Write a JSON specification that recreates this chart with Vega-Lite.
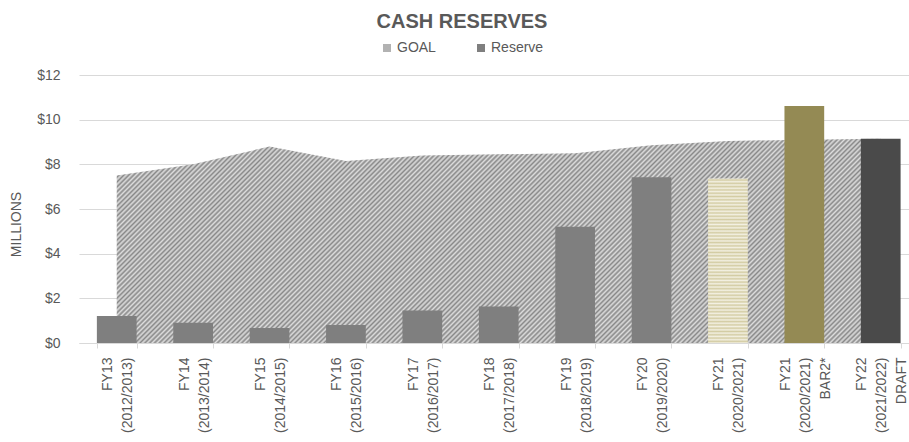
{
  "$schema": "https://vega.github.io/schema/vega-lite/v6.json",
  "width": 830,
  "height": 268,
  "autosize": "none",
  "padding": {"left": 79, "top": 75, "right": 0, "bottom": 99},
  "background": "white",
  "config": {
    "font": "Liberation Sans",
    "view": {"stroke": null}
  },
  "title": {
    "text": "CASH RESERVES",
    "font": "Liberation Sans",
    "fontSize": 20,
    "fontWeight": "bold",
    "color": "#595959",
    "anchor": "middle",
    "baseline": "alphabetic",
    "dx": -32,
    "dy": 20,
    "offset": 13
  },
  "data": {
    "values": [
      {"cat": "FY13|(2012/2013)", "goal": 7.5, "reserve": 1.21, "kind": "actual"},
      {"cat": "FY14|(2013/2014)", "goal": 8.0, "reserve": 0.91, "kind": "actual"},
      {"cat": "FY15|(2014/2015)", "goal": 8.8, "reserve": 0.67, "kind": "actual"},
      {"cat": "FY16|(2015/2016)", "goal": 8.15, "reserve": 0.81, "kind": "actual"},
      {"cat": "FY17|(2016/2017)", "goal": 8.4, "reserve": 1.45, "kind": "actual"},
      {"cat": "FY18|(2017/2018)", "goal": 8.45, "reserve": 1.63, "kind": "actual"},
      {"cat": "FY19|(2018/2019)", "goal": 8.5, "reserve": 5.21, "kind": "actual"},
      {"cat": "FY20|(2019/2020)", "goal": 8.85, "reserve": 7.42, "kind": "actual"},
      {"cat": "FY21|(2020/2021)", "goal": 9.05, "reserve": 7.37, "kind": "current"},
      {"cat": "FY21|(2020/2021)|BAR2*", "goal": 9.1, "reserve": 10.61, "kind": "bar2"},
      {"cat": "FY22|(2021/2022)|DRAFT", "goal": 9.15, "reserve": 9.15, "kind": "draft"}
    ]
  },
  "encoding": {
    "x": {
      "field": "cat",
      "type": "nominal",
      "sort": null,
      "scale": {
        "domain": ["FY13|(2012/2013)", "FY14|(2013/2014)", "FY15|(2014/2015)", "FY16|(2015/2016)", "FY17|(2016/2017)", "FY18|(2017/2018)", "FY19|(2018/2019)", "FY20|(2019/2020)", "FY21|(2020/2021)", "FY21|(2020/2021)|BAR2*", "FY22|(2021/2022)|DRAFT"],
        "paddingInner": 0.48, "paddingOuter": 0.172, "align": 0.68
      },
      "axis": {
        "title": null,
        "labelAngle": -90,
        "labelAlign": "right",
        "labelBaseline": "middle",
        "labelExpr": "split(datum.label, '|')",
        "labelOffset": {
          "condition": {"test": "length(split(datum.value, '|')) > 2", "value": -19},
          "value": -9
        },
        "labelFont": "Liberation Sans",
        "labelFontSize": 14,
        "labelLineHeight": 20,
        "labelColor": "#595959",
        "labelPadding": 9,
        "labelOverlap": false,
        "labelLimit": 300,
        "tickBand": "extent",
        "tickSize": 5,
        "tickColor": "#d9d9d9",
        "domainColor": "#d9d9d9",
        "grid": false
      }
    }
  },
  "layer": [
    {
      "mark": {"type": "area", "interpolate": "linear",
        "fill": {"gradient": "linear", "x1": 0, "y1": 0, "x2": 1.1828, "y2": 0.3163, "stops": [
{"offset":0,"color":"#888"},{"offset":0.0025,"color":"#ddd"},{"offset":0.005,"color":"#888"},{"offset":0.0075,"color":"#ddd"},
{"offset":0.01,"color":"#888"},{"offset":0.0125,"color":"#ddd"},{"offset":0.015,"color":"#888"},{"offset":0.0175,"color":"#ddd"},
{"offset":0.02,"color":"#888"},{"offset":0.0225,"color":"#ddd"},{"offset":0.025,"color":"#888"},{"offset":0.0275,"color":"#ddd"},
{"offset":0.03,"color":"#888"},{"offset":0.0325,"color":"#ddd"},{"offset":0.035,"color":"#888"},{"offset":0.0375,"color":"#ddd"},
{"offset":0.04,"color":"#888"},{"offset":0.0425,"color":"#ddd"},{"offset":0.045,"color":"#888"},{"offset":0.0475,"color":"#ddd"},
{"offset":0.05,"color":"#888"},{"offset":0.0525,"color":"#ddd"},{"offset":0.055,"color":"#888"},{"offset":0.0575,"color":"#ddd"},
{"offset":0.06,"color":"#888"},{"offset":0.0625,"color":"#ddd"},{"offset":0.065,"color":"#888"},{"offset":0.0675,"color":"#ddd"},
{"offset":0.07,"color":"#888"},{"offset":0.0725,"color":"#ddd"},{"offset":0.075,"color":"#888"},{"offset":0.0775,"color":"#ddd"},
{"offset":0.08,"color":"#888"},{"offset":0.0825,"color":"#ddd"},{"offset":0.085,"color":"#888"},{"offset":0.0875,"color":"#ddd"},
{"offset":0.09,"color":"#888"},{"offset":0.0925,"color":"#ddd"},{"offset":0.095,"color":"#888"},{"offset":0.0975,"color":"#ddd"},
{"offset":0.1,"color":"#888"},{"offset":0.1025,"color":"#ddd"},{"offset":0.105,"color":"#888"},{"offset":0.1075,"color":"#ddd"},
{"offset":0.11,"color":"#888"},{"offset":0.1125,"color":"#ddd"},{"offset":0.115,"color":"#888"},{"offset":0.1175,"color":"#ddd"},
{"offset":0.12,"color":"#888"},{"offset":0.1225,"color":"#ddd"},{"offset":0.125,"color":"#888"},{"offset":0.1275,"color":"#ddd"},
{"offset":0.13,"color":"#888"},{"offset":0.1325,"color":"#ddd"},{"offset":0.135,"color":"#888"},{"offset":0.1375,"color":"#ddd"},
{"offset":0.14,"color":"#888"},{"offset":0.1425,"color":"#ddd"},{"offset":0.145,"color":"#888"},{"offset":0.1475,"color":"#ddd"},
{"offset":0.15,"color":"#888"},{"offset":0.1525,"color":"#ddd"},{"offset":0.155,"color":"#888"},{"offset":0.1575,"color":"#ddd"},
{"offset":0.16,"color":"#888"},{"offset":0.1625,"color":"#ddd"},{"offset":0.165,"color":"#888"},{"offset":0.1675,"color":"#ddd"},
{"offset":0.17,"color":"#888"},{"offset":0.1725,"color":"#ddd"},{"offset":0.175,"color":"#888"},{"offset":0.1775,"color":"#ddd"},
{"offset":0.18,"color":"#888"},{"offset":0.1825,"color":"#ddd"},{"offset":0.185,"color":"#888"},{"offset":0.1875,"color":"#ddd"},
{"offset":0.19,"color":"#888"},{"offset":0.1925,"color":"#ddd"},{"offset":0.195,"color":"#888"},{"offset":0.1975,"color":"#ddd"},
{"offset":0.2,"color":"#888"},{"offset":0.2025,"color":"#ddd"},{"offset":0.205,"color":"#888"},{"offset":0.2075,"color":"#ddd"},
{"offset":0.21,"color":"#888"},{"offset":0.2125,"color":"#ddd"},{"offset":0.215,"color":"#888"},{"offset":0.2175,"color":"#ddd"},
{"offset":0.22,"color":"#888"},{"offset":0.2225,"color":"#ddd"},{"offset":0.225,"color":"#888"},{"offset":0.2275,"color":"#ddd"},
{"offset":0.23,"color":"#888"},{"offset":0.2325,"color":"#ddd"},{"offset":0.235,"color":"#888"},{"offset":0.2375,"color":"#ddd"},
{"offset":0.24,"color":"#888"},{"offset":0.2425,"color":"#ddd"},{"offset":0.245,"color":"#888"},{"offset":0.2475,"color":"#ddd"},
{"offset":0.25,"color":"#888"},{"offset":0.2525,"color":"#ddd"},{"offset":0.255,"color":"#888"},{"offset":0.2575,"color":"#ddd"},
{"offset":0.26,"color":"#888"},{"offset":0.2625,"color":"#ddd"},{"offset":0.265,"color":"#888"},{"offset":0.2675,"color":"#ddd"},
{"offset":0.27,"color":"#888"},{"offset":0.2725,"color":"#ddd"},{"offset":0.275,"color":"#888"},{"offset":0.2775,"color":"#ddd"},
{"offset":0.28,"color":"#888"},{"offset":0.2825,"color":"#ddd"},{"offset":0.285,"color":"#888"},{"offset":0.2875,"color":"#ddd"},
{"offset":0.29,"color":"#888"},{"offset":0.2925,"color":"#ddd"},{"offset":0.295,"color":"#888"},{"offset":0.2975,"color":"#ddd"},
{"offset":0.3,"color":"#888"},{"offset":0.3025,"color":"#ddd"},{"offset":0.305,"color":"#888"},{"offset":0.3075,"color":"#ddd"},
{"offset":0.31,"color":"#888"},{"offset":0.3125,"color":"#ddd"},{"offset":0.315,"color":"#888"},{"offset":0.3175,"color":"#ddd"},
{"offset":0.32,"color":"#888"},{"offset":0.3225,"color":"#ddd"},{"offset":0.325,"color":"#888"},{"offset":0.3275,"color":"#ddd"},
{"offset":0.33,"color":"#888"},{"offset":0.3325,"color":"#ddd"},{"offset":0.335,"color":"#888"},{"offset":0.3375,"color":"#ddd"},
{"offset":0.34,"color":"#888"},{"offset":0.3425,"color":"#ddd"},{"offset":0.345,"color":"#888"},{"offset":0.3475,"color":"#ddd"},
{"offset":0.35,"color":"#888"},{"offset":0.3525,"color":"#ddd"},{"offset":0.355,"color":"#888"},{"offset":0.3575,"color":"#ddd"},
{"offset":0.36,"color":"#888"},{"offset":0.3625,"color":"#ddd"},{"offset":0.365,"color":"#888"},{"offset":0.3675,"color":"#ddd"},
{"offset":0.37,"color":"#888"},{"offset":0.3725,"color":"#ddd"},{"offset":0.375,"color":"#888"},{"offset":0.3775,"color":"#ddd"},
{"offset":0.38,"color":"#888"},{"offset":0.3825,"color":"#ddd"},{"offset":0.385,"color":"#888"},{"offset":0.3875,"color":"#ddd"},
{"offset":0.39,"color":"#888"},{"offset":0.3925,"color":"#ddd"},{"offset":0.395,"color":"#888"},{"offset":0.3975,"color":"#ddd"},
{"offset":0.4,"color":"#888"},{"offset":0.4025,"color":"#ddd"},{"offset":0.405,"color":"#888"},{"offset":0.4075,"color":"#ddd"},
{"offset":0.41,"color":"#888"},{"offset":0.4125,"color":"#ddd"},{"offset":0.415,"color":"#888"},{"offset":0.4175,"color":"#ddd"},
{"offset":0.42,"color":"#888"},{"offset":0.4225,"color":"#ddd"},{"offset":0.425,"color":"#888"},{"offset":0.4275,"color":"#ddd"},
{"offset":0.43,"color":"#888"},{"offset":0.4325,"color":"#ddd"},{"offset":0.435,"color":"#888"},{"offset":0.4375,"color":"#ddd"},
{"offset":0.44,"color":"#888"},{"offset":0.4425,"color":"#ddd"},{"offset":0.445,"color":"#888"},{"offset":0.4475,"color":"#ddd"},
{"offset":0.45,"color":"#888"},{"offset":0.4525,"color":"#ddd"},{"offset":0.455,"color":"#888"},{"offset":0.4575,"color":"#ddd"},
{"offset":0.46,"color":"#888"},{"offset":0.4625,"color":"#ddd"},{"offset":0.465,"color":"#888"},{"offset":0.4675,"color":"#ddd"},
{"offset":0.47,"color":"#888"},{"offset":0.4725,"color":"#ddd"},{"offset":0.475,"color":"#888"},{"offset":0.4775,"color":"#ddd"},
{"offset":0.48,"color":"#888"},{"offset":0.4825,"color":"#ddd"},{"offset":0.485,"color":"#888"},{"offset":0.4875,"color":"#ddd"},
{"offset":0.49,"color":"#888"},{"offset":0.4925,"color":"#ddd"},{"offset":0.495,"color":"#888"},{"offset":0.4975,"color":"#ddd"},
{"offset":0.5,"color":"#888"},{"offset":0.5025,"color":"#ddd"},{"offset":0.505,"color":"#888"},{"offset":0.5075,"color":"#ddd"},
{"offset":0.51,"color":"#888"},{"offset":0.5125,"color":"#ddd"},{"offset":0.515,"color":"#888"},{"offset":0.5175,"color":"#ddd"},
{"offset":0.52,"color":"#888"},{"offset":0.5225,"color":"#ddd"},{"offset":0.525,"color":"#888"},{"offset":0.5275,"color":"#ddd"},
{"offset":0.53,"color":"#888"},{"offset":0.5325,"color":"#ddd"},{"offset":0.535,"color":"#888"},{"offset":0.5375,"color":"#ddd"},
{"offset":0.54,"color":"#888"},{"offset":0.5425,"color":"#ddd"},{"offset":0.545,"color":"#888"},{"offset":0.5475,"color":"#ddd"},
{"offset":0.55,"color":"#888"},{"offset":0.5525,"color":"#ddd"},{"offset":0.555,"color":"#888"},{"offset":0.5575,"color":"#ddd"},
{"offset":0.56,"color":"#888"},{"offset":0.5625,"color":"#ddd"},{"offset":0.565,"color":"#888"},{"offset":0.5675,"color":"#ddd"},
{"offset":0.57,"color":"#888"},{"offset":0.5725,"color":"#ddd"},{"offset":0.575,"color":"#888"},{"offset":0.5775,"color":"#ddd"},
{"offset":0.58,"color":"#888"},{"offset":0.5825,"color":"#ddd"},{"offset":0.585,"color":"#888"},{"offset":0.5875,"color":"#ddd"},
{"offset":0.59,"color":"#888"},{"offset":0.5925,"color":"#ddd"},{"offset":0.595,"color":"#888"},{"offset":0.5975,"color":"#ddd"},
{"offset":0.6,"color":"#888"},{"offset":0.6025,"color":"#ddd"},{"offset":0.605,"color":"#888"},{"offset":0.6075,"color":"#ddd"},
{"offset":0.61,"color":"#888"},{"offset":0.6125,"color":"#ddd"},{"offset":0.615,"color":"#888"},{"offset":0.6175,"color":"#ddd"},
{"offset":0.62,"color":"#888"},{"offset":0.6225,"color":"#ddd"},{"offset":0.625,"color":"#888"},{"offset":0.6275,"color":"#ddd"},
{"offset":0.63,"color":"#888"},{"offset":0.6325,"color":"#ddd"},{"offset":0.635,"color":"#888"},{"offset":0.6375,"color":"#ddd"},
{"offset":0.64,"color":"#888"},{"offset":0.6425,"color":"#ddd"},{"offset":0.645,"color":"#888"},{"offset":0.6475,"color":"#ddd"},
{"offset":0.65,"color":"#888"},{"offset":0.6525,"color":"#ddd"},{"offset":0.655,"color":"#888"},{"offset":0.6575,"color":"#ddd"},
{"offset":0.66,"color":"#888"},{"offset":0.6625,"color":"#ddd"},{"offset":0.665,"color":"#888"},{"offset":0.6675,"color":"#ddd"},
{"offset":0.67,"color":"#888"},{"offset":0.6725,"color":"#ddd"},{"offset":0.675,"color":"#888"},{"offset":0.6775,"color":"#ddd"},
{"offset":0.68,"color":"#888"},{"offset":0.6825,"color":"#ddd"},{"offset":0.685,"color":"#888"},{"offset":0.6875,"color":"#ddd"},
{"offset":0.69,"color":"#888"},{"offset":0.6925,"color":"#ddd"},{"offset":0.695,"color":"#888"},{"offset":0.6975,"color":"#ddd"},
{"offset":0.7,"color":"#888"},{"offset":0.7025,"color":"#ddd"},{"offset":0.705,"color":"#888"},{"offset":0.7075,"color":"#ddd"},
{"offset":0.71,"color":"#888"},{"offset":0.7125,"color":"#ddd"},{"offset":0.715,"color":"#888"},{"offset":0.7175,"color":"#ddd"},
{"offset":0.72,"color":"#888"},{"offset":0.7225,"color":"#ddd"},{"offset":0.725,"color":"#888"},{"offset":0.7275,"color":"#ddd"},
{"offset":0.73,"color":"#888"},{"offset":0.7325,"color":"#ddd"},{"offset":0.735,"color":"#888"},{"offset":0.7375,"color":"#ddd"},
{"offset":0.74,"color":"#888"},{"offset":0.7425,"color":"#ddd"},{"offset":0.745,"color":"#888"},{"offset":0.7475,"color":"#ddd"},
{"offset":0.75,"color":"#888"},{"offset":0.7525,"color":"#ddd"},{"offset":0.755,"color":"#888"},{"offset":0.7575,"color":"#ddd"},
{"offset":0.76,"color":"#888"},{"offset":0.7625,"color":"#ddd"},{"offset":0.765,"color":"#888"},{"offset":0.7675,"color":"#ddd"},
{"offset":0.77,"color":"#888"},{"offset":0.7725,"color":"#ddd"},{"offset":0.775,"color":"#888"},{"offset":0.7775,"color":"#ddd"},
{"offset":0.78,"color":"#888"},{"offset":0.7825,"color":"#ddd"},{"offset":0.785,"color":"#888"},{"offset":0.7875,"color":"#ddd"},
{"offset":0.79,"color":"#888"},{"offset":0.7925,"color":"#ddd"},{"offset":0.795,"color":"#888"},{"offset":0.7975,"color":"#ddd"},
{"offset":0.8,"color":"#888"},{"offset":0.8025,"color":"#ddd"},{"offset":0.805,"color":"#888"},{"offset":0.8075,"color":"#ddd"},
{"offset":0.81,"color":"#888"},{"offset":0.8125,"color":"#ddd"},{"offset":0.815,"color":"#888"},{"offset":0.8175,"color":"#ddd"},
{"offset":0.82,"color":"#888"},{"offset":0.8225,"color":"#ddd"},{"offset":0.825,"color":"#888"},{"offset":0.8275,"color":"#ddd"},
{"offset":0.83,"color":"#888"},{"offset":0.8325,"color":"#ddd"},{"offset":0.835,"color":"#888"},{"offset":0.8375,"color":"#ddd"},
{"offset":0.84,"color":"#888"},{"offset":0.8425,"color":"#ddd"},{"offset":0.845,"color":"#888"},{"offset":0.8475,"color":"#ddd"},
{"offset":0.85,"color":"#888"},{"offset":0.8525,"color":"#ddd"},{"offset":0.855,"color":"#888"},{"offset":0.8575,"color":"#ddd"},
{"offset":0.86,"color":"#888"},{"offset":0.8625,"color":"#ddd"},{"offset":0.865,"color":"#888"},{"offset":0.8675,"color":"#ddd"},
{"offset":0.87,"color":"#888"},{"offset":0.8725,"color":"#ddd"},{"offset":0.875,"color":"#888"},{"offset":0.8775,"color":"#ddd"},
{"offset":0.88,"color":"#888"},{"offset":0.8825,"color":"#ddd"},{"offset":0.885,"color":"#888"},{"offset":0.8875,"color":"#ddd"},
{"offset":0.89,"color":"#888"},{"offset":0.8925,"color":"#ddd"},{"offset":0.895,"color":"#888"},{"offset":0.8975,"color":"#ddd"},
{"offset":0.9,"color":"#888"},{"offset":0.9025,"color":"#ddd"},{"offset":0.905,"color":"#888"},{"offset":0.9075,"color":"#ddd"},
{"offset":0.91,"color":"#888"},{"offset":0.9125,"color":"#ddd"},{"offset":0.915,"color":"#888"},{"offset":0.9175,"color":"#ddd"},
{"offset":0.92,"color":"#888"},{"offset":0.9225,"color":"#ddd"},{"offset":0.925,"color":"#888"},{"offset":0.9275,"color":"#ddd"},
{"offset":0.93,"color":"#888"},{"offset":0.9325,"color":"#ddd"},{"offset":0.935,"color":"#888"},{"offset":0.9375,"color":"#ddd"},
{"offset":0.94,"color":"#888"},{"offset":0.9425,"color":"#ddd"},{"offset":0.945,"color":"#888"},{"offset":0.9475,"color":"#ddd"},
{"offset":0.95,"color":"#888"},{"offset":0.9525,"color":"#ddd"},{"offset":0.955,"color":"#888"},{"offset":0.9575,"color":"#ddd"},
{"offset":0.96,"color":"#888"},{"offset":0.9625,"color":"#ddd"},{"offset":0.965,"color":"#888"},{"offset":0.9675,"color":"#ddd"},
{"offset":0.97,"color":"#888"},{"offset":0.9725,"color":"#ddd"},{"offset":0.975,"color":"#888"},{"offset":0.9775,"color":"#ddd"},
{"offset":0.98,"color":"#888"},{"offset":0.9825,"color":"#ddd"},{"offset":0.985,"color":"#888"},{"offset":0.9875,"color":"#ddd"},
{"offset":0.99,"color":"#888"},{"offset":0.9925,"color":"#ddd"},{"offset":0.995,"color":"#888"},{"offset":0.9975,"color":"#ddd"},
{"offset":1,"color":"#888"}
        ]}
      },
      "encoding": {
        "y": {
          "field": "goal",
          "type": "quantitative",
          "scale": {"domain": [0, 12], "nice": false},
          "axis": {
            "title": "MILLIONS",
            "titleFont": "Liberation Sans",
            "titleFontSize": 14,
            "titleFontWeight": "normal",
            "titleColor": "#595959",
            "titleX": -56,
            "titleY": 149,
            "values": [0, 2, 4, 6, 8, 10, 12],
            "labelExpr": "'$' + datum.value",
            "labelFont": "Liberation Sans",
            "labelFontSize": 14,
            "labelColor": "#595959",
            "labelPadding": 19,
            "ticks": false,
            "domain": false,
            "gridColor": "#d9d9d9"
          }
        }
      }
    },
    {
      "transform": [{"filter": "datum.kind === 'actual'"}],
      "mark": {"type": "bar"},
      "encoding": {
        "y": {"field": "reserve", "type": "quantitative"},
        "color": {
          "datum": "Reserve",
          "scale": {"domain": ["GOAL", "Reserve"], "range": ["#b2b2b2", "#7f7f7f"]},
          "legend": {
            "title": null,
            "orient": "none",
            "legendX": 301,
            "legendY": -34,
            "direction": "horizontal",
            "symbolType": "square",
            "symbolSize": 64,
            "symbolStrokeWidth": 0,
            "symbolOpacity": 1,
            "labelFont": "Liberation Sans",
            "labelFontSize": 14,
            "labelColor": "#595959",
            "labelOffset": 3,
            "columnPadding": 38,
            "padding": 0
          }
        }
      }
    },
    {
      "transform": [{"filter": "datum.kind === 'current'"}],
      "mark": {"type": "bar",
        "fill": {"gradient": "linear", "x1": 0, "y1": 0, "x2": 0, "y2": 1, "stops": [
{"offset":0,"color":"#f3f0e2"},{"offset":0.01,"color":"#d3cca3"},{"offset":0.02,"color":"#f3f0e2"},{"offset":0.03,"color":"#d3cca3"},{"offset":0.04,"color":"#f3f0e2"},
{"offset":0.05,"color":"#d3cca3"},{"offset":0.06,"color":"#f3f0e2"},{"offset":0.07,"color":"#d3cca3"},{"offset":0.08,"color":"#f3f0e2"},{"offset":0.09,"color":"#d3cca3"},
{"offset":0.1,"color":"#f3f0e2"},{"offset":0.11,"color":"#d3cca3"},{"offset":0.12,"color":"#f3f0e2"},{"offset":0.13,"color":"#d3cca3"},{"offset":0.14,"color":"#f3f0e2"},
{"offset":0.15,"color":"#d3cca3"},{"offset":0.16,"color":"#f3f0e2"},{"offset":0.17,"color":"#d3cca3"},{"offset":0.18,"color":"#f3f0e2"},{"offset":0.19,"color":"#d3cca3"},
{"offset":0.2,"color":"#f3f0e2"},{"offset":0.21,"color":"#d3cca3"},{"offset":0.22,"color":"#f3f0e2"},{"offset":0.23,"color":"#d3cca3"},{"offset":0.24,"color":"#f3f0e2"},
{"offset":0.25,"color":"#d3cca3"},{"offset":0.26,"color":"#f3f0e2"},{"offset":0.27,"color":"#d3cca3"},{"offset":0.28,"color":"#f3f0e2"},{"offset":0.29,"color":"#d3cca3"},
{"offset":0.3,"color":"#f3f0e2"},{"offset":0.31,"color":"#d3cca3"},{"offset":0.32,"color":"#f3f0e2"},{"offset":0.33,"color":"#d3cca3"},{"offset":0.34,"color":"#f3f0e2"},
{"offset":0.35,"color":"#d3cca3"},{"offset":0.36,"color":"#f3f0e2"},{"offset":0.37,"color":"#d3cca3"},{"offset":0.38,"color":"#f3f0e2"},{"offset":0.39,"color":"#d3cca3"},
{"offset":0.4,"color":"#f3f0e2"},{"offset":0.41,"color":"#d3cca3"},{"offset":0.42,"color":"#f3f0e2"},{"offset":0.43,"color":"#d3cca3"},{"offset":0.44,"color":"#f3f0e2"},
{"offset":0.45,"color":"#d3cca3"},{"offset":0.46,"color":"#f3f0e2"},{"offset":0.47,"color":"#d3cca3"},{"offset":0.48,"color":"#f3f0e2"},{"offset":0.49,"color":"#d3cca3"},
{"offset":0.5,"color":"#f3f0e2"},{"offset":0.51,"color":"#d3cca3"},{"offset":0.52,"color":"#f3f0e2"},{"offset":0.53,"color":"#d3cca3"},{"offset":0.54,"color":"#f3f0e2"},
{"offset":0.55,"color":"#d3cca3"},{"offset":0.56,"color":"#f3f0e2"},{"offset":0.57,"color":"#d3cca3"},{"offset":0.58,"color":"#f3f0e2"},{"offset":0.59,"color":"#d3cca3"},
{"offset":0.6,"color":"#f3f0e2"},{"offset":0.61,"color":"#d3cca3"},{"offset":0.62,"color":"#f3f0e2"},{"offset":0.63,"color":"#d3cca3"},{"offset":0.64,"color":"#f3f0e2"},
{"offset":0.65,"color":"#d3cca3"},{"offset":0.66,"color":"#f3f0e2"},{"offset":0.67,"color":"#d3cca3"},{"offset":0.68,"color":"#f3f0e2"},{"offset":0.69,"color":"#d3cca3"},
{"offset":0.7,"color":"#f3f0e2"},{"offset":0.71,"color":"#d3cca3"},{"offset":0.72,"color":"#f3f0e2"},{"offset":0.73,"color":"#d3cca3"},{"offset":0.74,"color":"#f3f0e2"},
{"offset":0.75,"color":"#d3cca3"},{"offset":0.76,"color":"#f3f0e2"},{"offset":0.77,"color":"#d3cca3"},{"offset":0.78,"color":"#f3f0e2"},{"offset":0.79,"color":"#d3cca3"},
{"offset":0.8,"color":"#f3f0e2"},{"offset":0.81,"color":"#d3cca3"},{"offset":0.82,"color":"#f3f0e2"},{"offset":0.83,"color":"#d3cca3"},{"offset":0.84,"color":"#f3f0e2"},
{"offset":0.85,"color":"#d3cca3"},{"offset":0.86,"color":"#f3f0e2"},{"offset":0.87,"color":"#d3cca3"},{"offset":0.88,"color":"#f3f0e2"},{"offset":0.89,"color":"#d3cca3"},
{"offset":0.9,"color":"#f3f0e2"},{"offset":0.91,"color":"#d3cca3"},{"offset":0.92,"color":"#f3f0e2"},{"offset":0.93,"color":"#d3cca3"},{"offset":0.94,"color":"#f3f0e2"},
{"offset":0.95,"color":"#d3cca3"},{"offset":0.96,"color":"#f3f0e2"},{"offset":0.97,"color":"#d3cca3"},{"offset":0.98,"color":"#f3f0e2"},{"offset":0.99,"color":"#d3cca3"},
{"offset":1,"color":"#f3f0e2"}
        ]}
      },
      "encoding": {
        "y": {"field": "reserve", "type": "quantitative"}
      }
    },
    {
      "transform": [{"filter": "datum.kind === 'bar2' || datum.kind === 'draft'"}],
      "mark": {"type": "bar"},
      "encoding": {
        "y": {"field": "reserve", "type": "quantitative"},
        "fill": {
          "condition": {"test": "datum.kind === 'bar2'", "value": "#948a54"},
          "value": "#4a4a4a"
        }
      }
    }
  ]
}
